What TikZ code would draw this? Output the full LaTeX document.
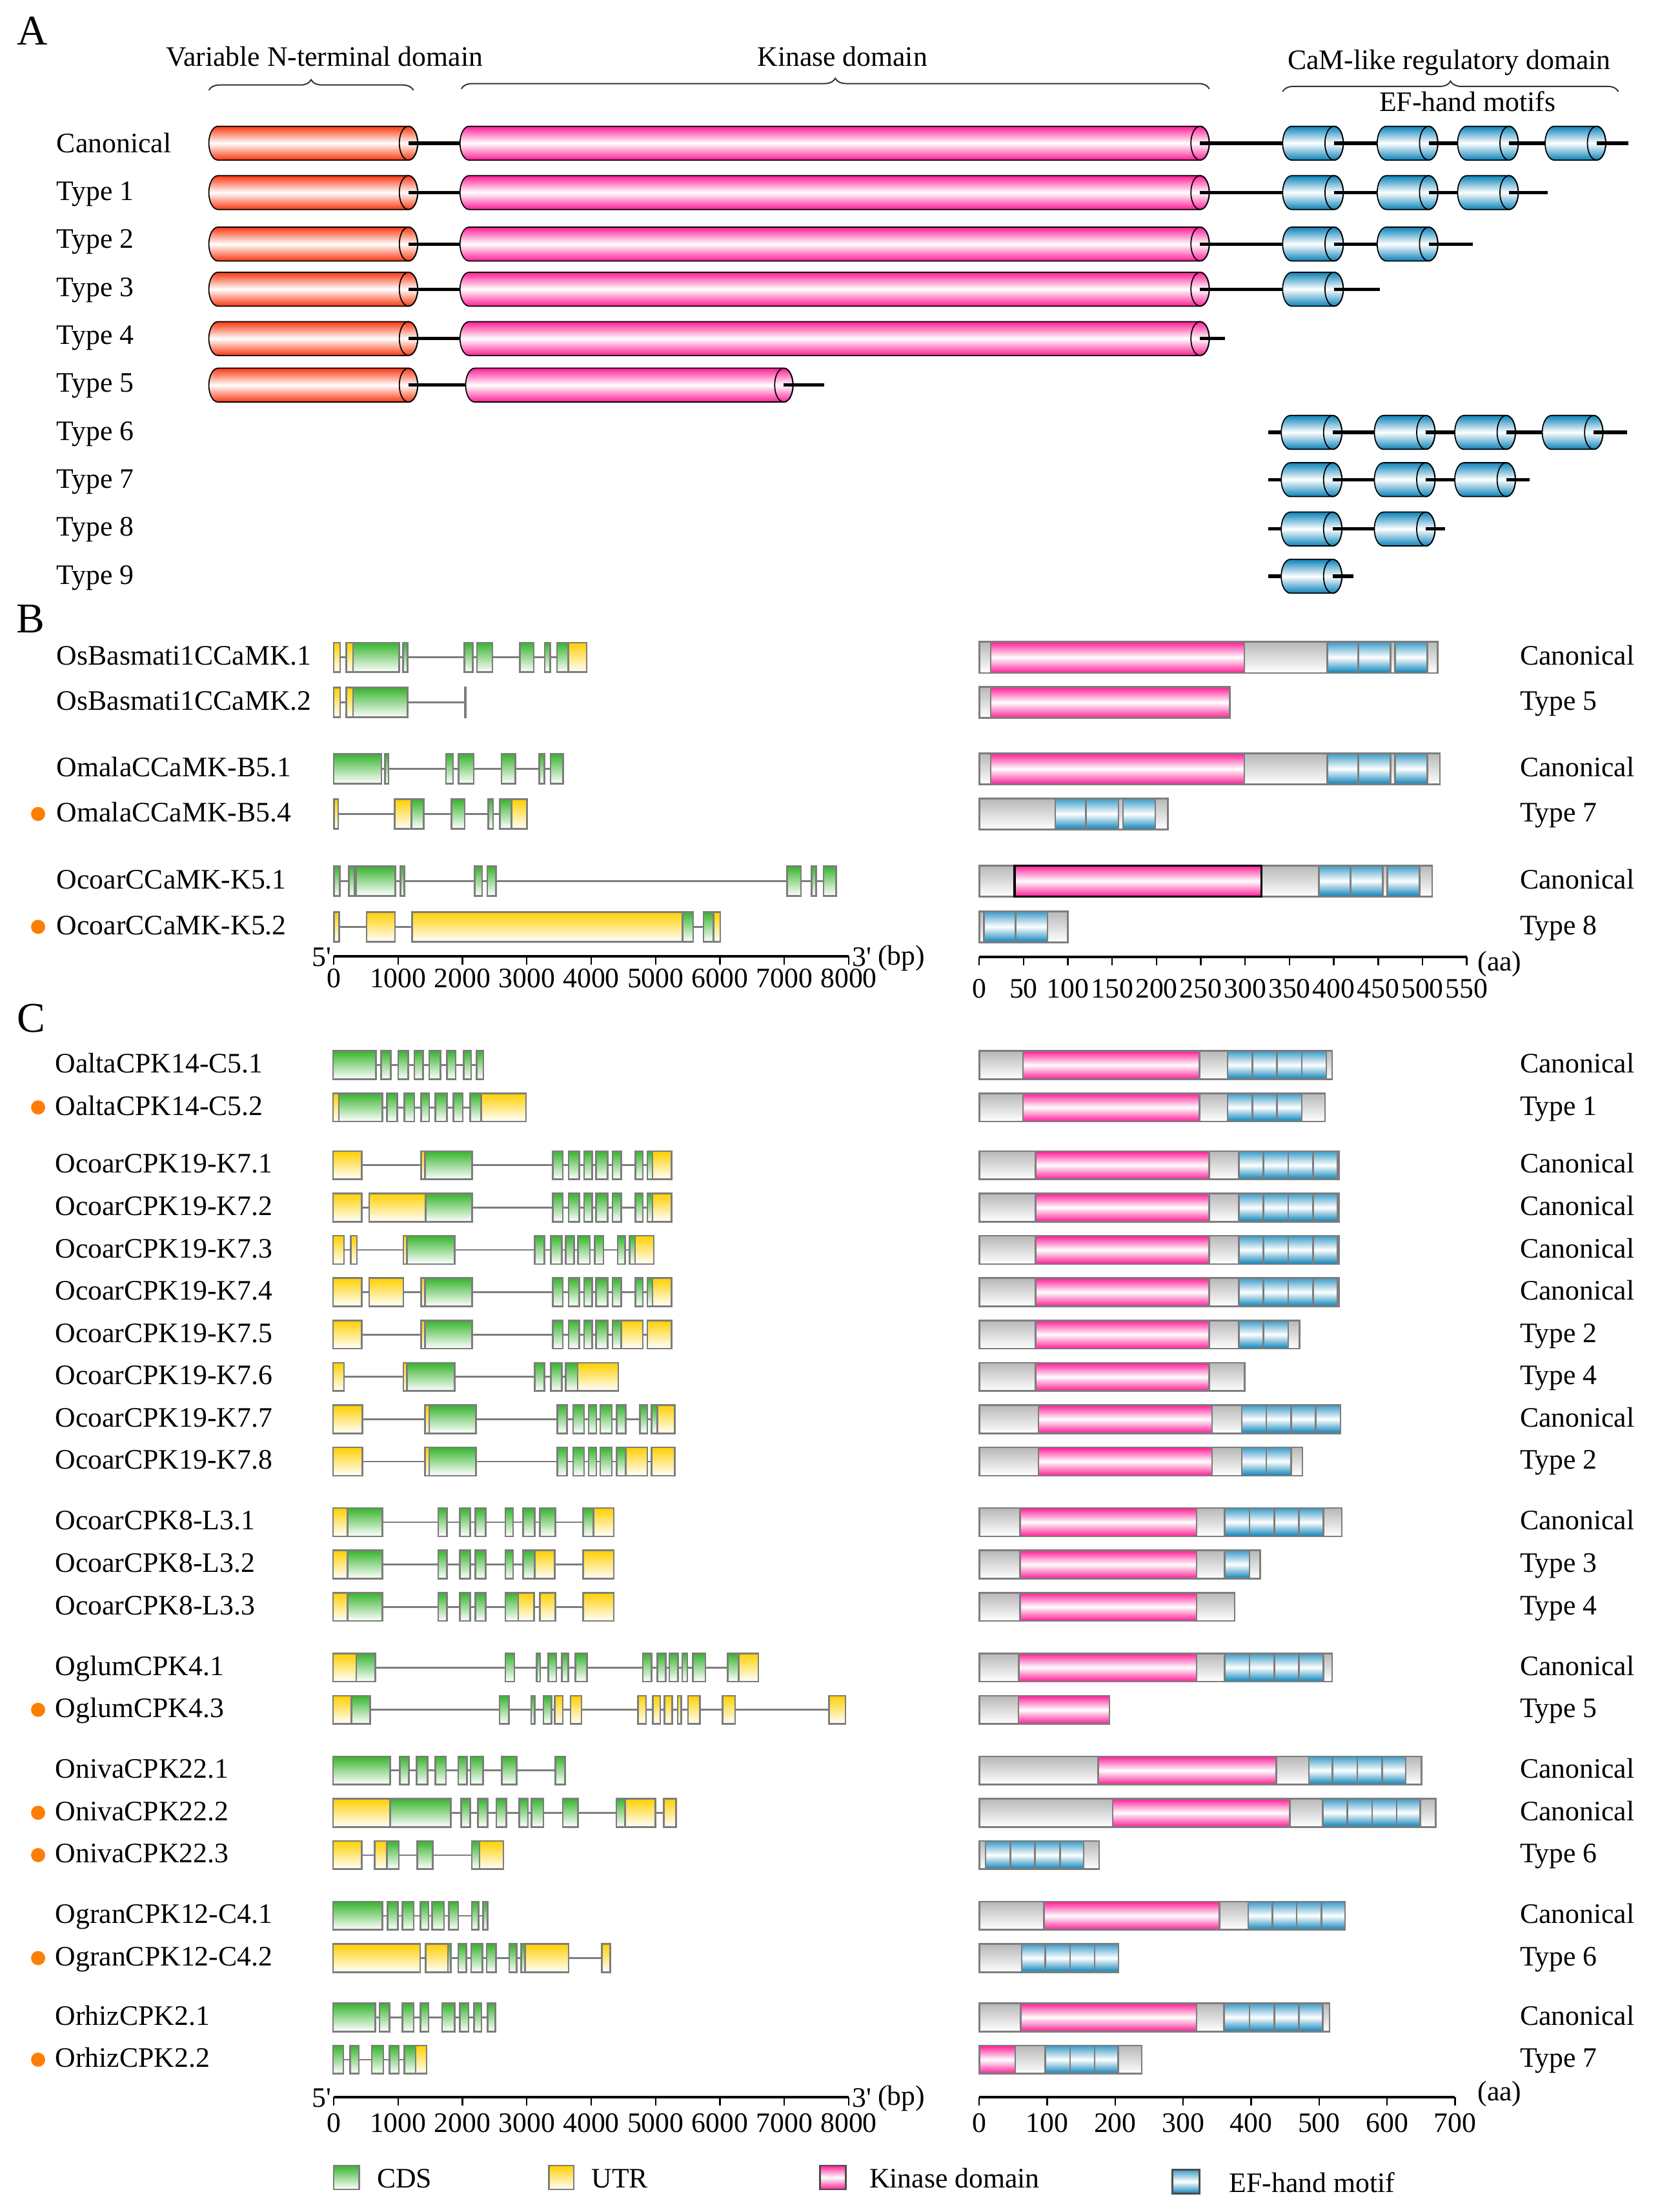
\documentclass[tikz,border=0pt]{standalone}
\usepackage{fontspec}
\setmainfont{Liberation Serif}
\usetikzlibrary{decorations.pathreplacing}

\definecolor{ntred}{RGB}{250,55,15}
\definecolor{kinpink}{RGB}{255,30,150}
\definecolor{efblue}{RGB}{10,130,185}
\definecolor{cdsgreen}{RGB}{55,180,45}
\definecolor{utryellow}{RGB}{255,208,0}
\definecolor{edgegrey}{RGB}{125,125,125}
\definecolor{isoorange}{RGB}{255,125,0}

\tikzset{
  lbl/.style={anchor=base west, inner sep=0pt},
  hdr/.style={anchor=base, inner sep=0pt},
  ticklbl/.style={anchor=base, inner sep=0pt},
  panel/.style={inner sep=0pt, font=\fontsize{30}{34}\selectfont},
  cylline/.style={draw=black, line width=0.8pt},
  linker/.style={black, line width=2.4pt},
  intron/.style={edgegrey, line width=1.3pt},
  cds/.style={draw=edgegrey, line width=1.2pt, top color=cdsgreen, bottom color=white},
  utr/.style={draw=edgegrey, line width=1.2pt, top color=utryellow, bottom color=white},
  pbox/.style={draw=edgegrey, line width=1.2pt, top color=black!28, bottom color=white},
  kin/.style={draw=edgegrey, line width=1.2pt, top color=kinpink, bottom color=kinpink, middle color=white},
  efm/.style={draw=edgegrey, line width=1.2pt, top color=efblue!80, bottom color=efblue, middle color=white},
  axisline/.style={black, line width=1.8pt},
  tickline/.style={black, line width=1.1pt},
  brc/.style={decorate, decoration={brace, amplitude=7.5pt}, line width=0.9pt, black!80},
  isodot/.style={circle, fill=isoorange, inner sep=0pt, minimum size=10pt},
}

% side view of a helix cylinder: x1, x2, y, colour
\newcommand\cylndr[4]{%
  \draw[cylline, top color=#4, bottom color=#4, middle color=white]
    (#1+6.5,#3-12) arc[start angle=270, end angle=90, x radius=6.5, y radius=12]
    -- (#2-6.5,#3+12) arc[start angle=90, end angle=-90, x radius=6.5, y radius=12] -- cycle;
  \draw[cylline] (#2-6.5,#3) ellipse[x radius=6.5, y radius=12];
  \draw[linker] (#2-6.5,#3) -- (#2,#3);
}
% exon-intron model: y, half height, last base, exons x1/x2/style
\newcommand\gene[4]{%
  \draw[intron] (236.5,#1) -- (#3,#1);
  \foreach \a/\b/\s in {#4} {\draw[\s] (\a,#1-#2) rectangle (\b,#1+#2);}
}
% protein bar and its domains
\newcommand\pbar[3]{\draw[pbox] (694,#1-#2) rectangle (#3,#1+#2);}
\newcommand\pdom[4]{\foreach \a/\b in {#4} {\draw[#3] (\a,#1-#2) rectangle (\b,#1+#2);}}
% scale bars
\newcommand\bpaxis[3]{%
  \draw[axisline] (236.5,#2) -- (601.5,#2);
  \foreach \v [count=\k from 0] in {0,1000,...,8000}{%
    \draw[tickline] (236.5+45.625*\k,#2) -- ++(0,6);
    \node[ticklbl] (bp#1\k) at (236.5+45.625*\k,#3) {\v};}
}
\newcommand\aaaxis[6]{%
  \draw[axisline] (694,#2) -- (#6,#2);
  \foreach \v [count=\k] in {#4}{%
    \draw[tickline] (694+#5*\v,#2) -- ++(0,6);
    \node[ticklbl] (aa#1\k) at (694+#5*\v,#3) {\v};}
}

\begin{document}
\begin{tikzpicture}[x=1pt, y=-1pt, font=\fontsize{20}{24}\selectfont]
\useasboundingbox (0,0) rectangle (1176,1568);

% ---- A
\node[panel] (pA) at (23,22) {A};
\node[hdr] (hnterm) at (230,47) {Variable N-terminal domain};
\node[hdr] (hkin) at (597,47) {Kinase domain};
\node[hdr] (hcam) at (1027,49) {CaM-like regulatory domain};
\node[hdr] (hef) at (1040,79) {EF-hand motifs};
\draw[brc] (148,64) -- (293,64);
\draw[brc] (327,63) -- (857,63);
\draw[brc] (909,65) -- (1147,65);

\foreach \txt/\y in {Canonical/101,Type 1/135,Type 2/169,Type 3/203,Type 4/237,Type 5/271,Type 6/305,Type 7/339,Type 8/373,Type 9/407}
  \node[lbl] (tA\y) at (40,\y+7) {\txt};

\foreach \y/\yend in {101.5/1154,136.5/1097,173/1044,205/978,240/868}{
  \draw[linker] (200,\y) -- (\yend,\y);
  \cylndr{148}{296}{\y}{ntred}
  \cylndr{326}{857}{\y}{kinpink}
}
\draw[linker] (200,273) -- (584,273);
\cylndr{148}{296}{273}{ntred}
\cylndr{330}{562}{273}{kinpink}
\foreach \y/\yend in {306.5/1153,340/1084,375/1024,408.5/959}
  \draw[linker] (899,\y) -- (\yend,\y);
\foreach \e in {909,976,1033,1095} {\cylndr{\e}{\e+43}{101.5}{efblue}}
\foreach \e in {909,976,1033} {\cylndr{\e}{\e+43}{136.5}{efblue}}
\foreach \e in {909,976} {\cylndr{\e}{\e+43}{173}{efblue}}
\cylndr{909}{952}{205}{efblue}
\foreach \e in {908,974,1031,1093} {\cylndr{\e}{\e+43}{306.5}{efblue}}
\foreach \e in {908,974,1031} {\cylndr{\e}{\e+43}{340}{efblue}}
\foreach \e in {908,974} {\cylndr{\e}{\e+43}{375}{efblue}}
\cylndr{908}{951}{408.5}{efblue}

% ---- B
\node[panel] (pB) at (21.5,438.5) {B};
\foreach \nm/\y [count=\i] in {OsBasmati1CCaMK.1/466,OsBasmati1CCaMK.2/498,OmalaCCaMK-B5.1/545,OmalaCCaMK-B5.4/577,OcoarCCaMK-K5.1/624.5,OcoarCCaMK-K5.2/657}
  \node[lbl] (gB\i) at (40,\y+5.5) {\nm};
\foreach \txt/\y [count=\i] in {Canonical/466,Type 5/498,Canonical/545,Type 7/577,Canonical/624.5,Type 8/657}
  \node[lbl] (tB\i) at (1077,\y+5.5) {\txt};
\node[isodot] (dB4) at (27,577) {};
\node[isodot] (dB6) at (27,657) {};

\gene{466}{10.5}{415.7}{236.5/241/utr,245.5/250.2/utr,250.2/283/cds,285.7/288.8/cds,329/335/cds,338/349/cds,368.4/378.3/cds,386/390/cds,394.8/402.7/cds,402.7/415.7/utr}
\gene{498}{10.5}{329.8}{236.5/241/utr,245.5/250.2/utr,250.2/288.8/cds,329.5/330.1/cds}
\gene{545}{10.5}{399.1}{236.5/270.3/cds,272.7/275.4/cds,316/321.1/cds,325/335.7/cds,355.4/365.2/cds,382.2/385.7/cds,390.1/399.1/cds}
\gene{577}{10.5}{373.5}{236.8/239.6/utr,279.7/291.6/utr,291.6/300.2/cds,320/329.4/cds,346/349.5/cds,354.2/362.5/cds,362.5/373.5/utr}
\gene{624.5}{10.5}{592.5}{236.8/240.8/cds,247.2/251.1/cds,252.4/280.3/cds,283.9/286.5/cds,336.4/341.7/cds,345.3/351.5/cds,557.9/567.6/cds,575.1/578.4/cds,583.6/592.5/cds}
\gene{657}{10.5}{510.4}{236.8/240.3/utr,259.8/280/utr,292.1/483.7/utr,483.7/491.3/cds,498.6/505.7/cds,505.7/510.4/utr}

\pbar{466}{11}{1018.8}\pdom{466}{11}{kin}{702.1/881.8}\pdom{466}{11}{efm}{940.7/962.6,962.6/985.5,988.7/1011.6}
\pbar{498}{11}{871.7}\pdom{498}{11}{kin}{702.1/871.7}
\pbar{545}{11}{1020.4}\pdom{545}{11}{kin}{702.1/881.8}\pdom{545}{11}{efm}{940.7/962.6,962.6/985.5,988.7/1011.6}
\pbar{577}{11}{827.6}\pdom{577}{11}{efm}{747.8/769.7,769.7/792.6,795.9/818.7}
\pbar{624.5}{11}{1014.9}\pdom{624.5}{11}{kin,draw=black,line width=1.6pt}{719.1/893.9}\pdom{624.5}{11}{efm}{934.8/957,957/979.9,983.2/1006}
\pbar{657}{11}{756.7}\pdom{657}{11}{efm}{697.2/719.7,719.7/742.3}

\bpaxis{B}{678}{700}
\node[lbl, anchor=base east] (fiveB) at (235,685) {5\textquotesingle};
\node[lbl] (threeB) at (604,685) {3\textquotesingle};
\node[lbl] (unitbpB) at (622,684) {(bp)};
\aaaxis{B}{678.5}{707.5}{0,50,...,550}{0.6282}{1039.5}
\node[lbl] (unitaaB) at (1047,688) {(aa)};

% ---- C
\node[panel] (pC) at (22,722) {C};
\foreach \nm/\y/\txt [count=\i] in {OaltaCPK14-C5.1/755/Canonical,%
OaltaCPK14-C5.2/785/Type 1,%
OcoarCPK19-K7.1/826/Canonical,%
OcoarCPK19-K7.2/856/Canonical,%
OcoarCPK19-K7.3/886/Canonical,%
OcoarCPK19-K7.4/916/Canonical,%
OcoarCPK19-K7.5/946/Type 2,%
OcoarCPK19-K7.6/976/Type 4,%
OcoarCPK19-K7.7/1006/Canonical,%
OcoarCPK19-K7.8/1036/Type 2,%
OcoarCPK8-L3.1/1079/Canonical,%
OcoarCPK8-L3.2/1109/Type 3,%
OcoarCPK8-L3.3/1139/Type 4,%
OglumCPK4.1/1182/Canonical,%
OglumCPK4.3/1212/Type 5,%
OnivaCPK22.1/1255/Canonical,%
OnivaCPK22.2/1285/Canonical,%
OnivaCPK22.3/1315/Type 6,%
OgranCPK12-C4.1/1358/Canonical,%
OgranCPK12-C4.2/1388/Type 6,%
OrhizCPK2.1/1430/Canonical,%
OrhizCPK2.2/1460/Type 7}{%
  \node[lbl] (gC\i) at (39,\y+5.5) {\nm};
  \node[lbl] (tC\i) at (1077,\y+5.5) {\txt};}
\foreach \y in {785,1212,1285,1315,1388,1460}
  \node[isodot] (dC\y) at (27,\y) {};

\gene{755}{10}{342.6}{236/266.4/cds,270.1/276.9/cds,282.2/289.3/cds,293.7/299.8/cds,304.2/312.1/cds,316.8/322.9/cds,328.6/333.9/cds,337.8/342.6/cds}
\gene{785}{10}{372.8}{236/240.1/utr,240.1/271.1/cds,274.3/281.6/cds,286.6/293.7/cds,298.4/304.2/cds,308.4/316.8/cds,321.3/327.9/cds,333.1/341/cds,341/372.8/utr}
\gene{826}{10}{476}{236/256.4/utr,298.4/301.1/utr,301.1/334.7/cds,391.7/398.8/cds,403/410.6/cds,414/419.8/cds,422.4/430.6/cds,434/440.3/cds,450.3/455.5/cds,458.7/462.4/cds,462.4/476/utr}
\gene{856}{10}{476}{236/256.4/utr,261.7/301.6/utr,301.6/334.7/cds,391.7/398.8/cds,403/410.6/cds,414/419.8/cds,422.4/430.6/cds,434/440.3/cds,450.3/455.5/cds,458.7/462.4/cds,462.4/476/utr}
\gene{886}{10}{463.4}{236/243.8/utr,248.5/253/utr,285.8/288.5/utr,288.5/322.1/cds,379.1/385.9/cds,390.4/398.3/cds,400.9/406.9/cds,409.6/418/cds,421.4/427.7/cds,437.7/443/cds,446.1/450/cds,450/463.4/utr}
\gene{916}{10}{476}{236/256.4/utr,261.7/285.8/utr,298.4/301.1/utr,301.1/334.7/cds,391.7/398.8/cds,403/410.6/cds,414/419.8/cds,422.4/430.6/cds,434/440.3/cds,450.3/455.5/cds,458.7/462.4/cds,462.4/476/utr}
\gene{946}{10}{476}{236/256.4/utr,298.4/301.1/utr,301.1/334.7/cds,391.7/398.8/cds,403/410.6/cds,414/419.8/cds,422.4/430.6/cds,434/440.3/cds,440.3/455.5/utr,458.7/476/utr}
\gene{976}{10}{438.2}{236/243.8/utr,285.8/288.5/utr,288.5/322.1/cds,379.1/385.9/cds,390.4/398.3/cds,400.9/409.3/cds,409.3/438.2/utr}
\gene{1006}{10}{478.1}{236/256.9/utr,301.1/304.2/utr,304.2/337.3/cds,394.9/401.7/cds,406.1/414/cds,417.2/422.7/cds,425.3/433.7/cds,437.1/443.4/cds,453.4/458.7/cds,461.8/465.8/cds,465.8/478.1/utr}
\gene{1036}{10}{478.1}{236/256.9/utr,301.1/304.2/utr,304.2/337.3/cds,394.9/401.7/cds,406.1/414/cds,417.2/422.7/cds,425.3/433.7/cds,437.1/443.4/cds,443.4/458.7/utr,461.8/478.1/utr}
\gene{1079}{10}{435}{236/246.4/utr,246.4/270.9/cds,310.5/316.8/cds,326/333.1/cds,336.8/344.1/cds,358.1/363.6/cds,370.7/379.1/cds,382.5/393.5/cds,413.2/420.6/cds,420.6/435/utr}
\gene{1109}{10}{435}{236/246.4/utr,246.4/270.9/cds,310.5/316.8/cds,326/333.1/cds,336.8/344.1/cds,358.1/363.6/cds,370.7/379.1/cds,379.1/393/utr,413.2/435/utr}
\gene{1139}{10}{435}{236/246.4/utr,246.4/270.9/cds,310.5/316.8/cds,326/333.1/cds,336.8/344.1/cds,358.1/367.3/cds,367.3/378.6/utr,382.5/393.5/utr,413.2/435/utr}
\gene{1182}{10}{537.5}{236/252.5/utr,252.5/265.9/cds,358.1/364.6/cds,380.4/382.8/cds,388.5/394.3/cds,398.3/402.7/cds,407.7/415.9/cds,455.5/461.8/cds,466/471.8/cds,474.4/480.5/cds,483.4/487.1/cds,491/499.9/cds,515.7/523.6/cds,523.6/537.5/utr}
\gene{1212}{10}{599.2}{236/249.1/utr,249.1/262.2/cds,354.1/360.7/cds,376.5/379.1/cds,385.1/390.9/cds,393/398.8/utr,404.3/412.2/utr,452.1/457.9/utr,462.6/467.9/utr,471/476.3/utr,480.2/482.8/utr,487.6/496/utr,512/520.9/utr,587.4/599.2/utr}
\gene{1255}{10}{400.4}{236/276.6/cds,283.5/289.8/cds,295.3/302.9/cds,308.4/316/cds,324.7/330.8/cds,333.4/342.3/cds,355.7/366.2/cds,393.5/400.4/cds}
\gene{1285}{10}{479.2}{236/276.6/utr,276.6/319.5/cds,326.8/333.1/cds,338.6/345.7/cds,351.8/358.9/cds,368.1/374.1/cds,376.7/385.1/cds,398.8/409.6/cds,436.9/442.9/cds,442.9/464.5/utr,470.5/479.2/utr}
\gene{1315}{10}{356.8}{236/256.4/utr,265.6/274.3/utr,274.3/282.7/cds,295.8/306.8/cds,334.4/339.9/cds,339.9/356.8/utr}
\gene{1358}{10}{345.7}{236/270.9/cds,274.8/281.9/cds,285.3/293.2/cds,297.9/303.7/cds,306.3/314.7/cds,318.1/324.7/cds,334.4/339.2/cds,342.3/345.7/cds}
\gene{1388}{10}{432.4}{236/297.7/utr,301.6/317.4/utr,317.4/319.5/cds,324.7/330.5/cds,333.9/341.8/cds,344.9/351.5/cds,360.9/366.2/cds,369.4/372/cds,372/403/utr,426.4/432.4/utr}
\gene{1430}{10}{351}{236/266.1/cds,269/276.1/cds,285.3/293.2/cds,297.9/303.7/cds,313.4/322.1/cds,326/332.1/cds,336/341.3/cds,345.7/351/cds}
\gene{1460}{10}{302.4}{236/243.3/cds,248/254.3/cds,263.5/271.7/cds,276.1/282.7/cds,286.6/294.5/cds,294.5/302.4/utr}

\pbar{755}{10}{944}\pdom{755}{10}{kin}{725/850}\pdom{755}{10}{efm}{870/887.5,887.5/905,905/922.5,922.5/940}
\pbar{785}{10}{939}\pdom{785}{10}{kin}{725/850}\pdom{785}{10}{efm}{870/887.5,887.5/905,905/922.5}
\foreach \y in {826,856,886,916}{\pbar{\y}{10}{949}\pdom{\y}{10}{kin}{734/857}\pdom{\y}{10}{efm}{878/895.5,895.5/913,913/930.5,930.5/948}}
\pbar{946}{10}{921}\pdom{946}{10}{kin}{734/857}\pdom{946}{10}{efm}{878/895.5,895.5/913}
\pbar{976}{10}{882}\pdom{976}{10}{kin}{734/857}
\pbar{1006}{10}{950}\pdom{1006}{10}{kin}{736/859}\pdom{1006}{10}{efm}{880/897.5,897.5/915,915/932.5,932.5/950}
\pbar{1036}{10}{923}\pdom{1036}{10}{kin}{736/859}\pdom{1036}{10}{efm}{880/897.5,897.5/915}
\pbar{1079}{10}{951}\pdom{1079}{10}{kin}{723/848}\pdom{1079}{10}{efm}{868/885.5,885.5/903,903/920.5,920.5/938}
\pbar{1109}{10}{893}\pdom{1109}{10}{kin}{723/848}\pdom{1109}{10}{efm}{868/885.5}
\pbar{1139}{10}{875}\pdom{1139}{10}{kin}{723/848}
\pbar{1182}{10}{944}\pdom{1182}{10}{kin}{722/848}\pdom{1182}{10}{efm}{868/885.5,885.5/903,903/920.5,920.5/938}
\pbar{1212}{10}{786.3}\pdom{1212}{10}{kin}{721.7/786.3}
\pbar{1255}{10}{1007.4}\pdom{1255}{10}{kin}{778.4/904.6}\pdom{1255}{10}{efm}{927.6/944.4,944.4/962,962/979.4,979.4/996.3}
\pbar{1285}{10}{1017.6}\pdom{1285}{10}{kin}{788.5/914.2}\pdom{1285}{10}{efm}{937.4/954.9,954.9/972.4,972.4/989.9,989.9/1006.4}
\pbar{1315}{10}{779}\pdom{1315}{10}{efm}{698.5/716,716/733.5,733.5/751.3,751.3/767.9}
\pbar{1358}{10}{953.3}\pdom{1358}{10}{kin}{739.9/864.2}\pdom{1358}{10}{efm}{884.6/901.8,901.8/919,919/936.5,936.5/953.3}
\pbar{1388}{10}{792.7}\pdom{1388}{10}{efm}{724/740.8,740.8/758.3,758.3/775.8,775.8/792.7}
\pbar{1430}{10}{942.2}\pdom{1430}{10}{kin}{723.3/848}\pdom{1430}{10}{efm}{867.4/885.6,885.6/903,903/920.5,920.5/937.4}
\pbar{1460}{10}{809.2}\pdom{1460}{10}{kin}{694/719.5}\pdom{1460}{10}{efm}{740.8/758.3,758.3/775.8,775.8/792.4}

\bpaxis{C}{1486.5}{1511.5}
\node[lbl, anchor=base east] (fiveC) at (235,1493.5) {5\textquotesingle};
\node[lbl] (threeC) at (604,1493.5) {3\textquotesingle};
\node[lbl] (unitbpC) at (622,1492.5) {(bp)};
\aaaxis{C}{1486.5}{1511.5}{0,100,...,700}{0.4817}{1031.2}
\node[lbl] (unitaaC) at (1047,1489) {(aa)};

% legend
\draw[cds] (236.5,1535) rectangle (254.5,1552);
\node[lbl] (lgcds) at (267,1551) {CDS};
\draw[utr] (389,1535) rectangle (406.6,1552);
\node[lbl] (lgutr) at (419,1551) {UTR};
\draw[kin, draw=black!70] (581,1535) rectangle (599.5,1552);
\node[lbl] (lgkin) at (616,1551) {Kinase domain};
\draw[efm, draw=black!70] (831,1538) rectangle (850,1555);
\node[lbl] (lgef) at (871,1554) {EF-hand motif};
\end{tikzpicture}
\end{document}
